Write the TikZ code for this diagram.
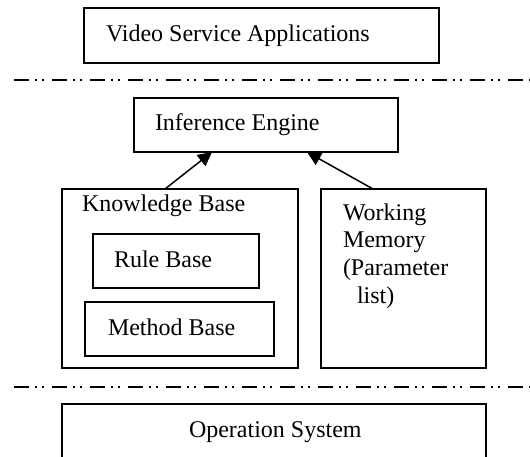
\documentclass[tikz,border=0pt]{standalone}
\usepackage{fontspec}
\setmainfont{Liberation Serif}
\usetikzlibrary{arrows.meta}
\begin{document}
\begin{tikzpicture}[x=0.5pt, y=-0.5pt,
  box/.style={draw, line width=0.75pt, rectangle, inner sep=0pt, outer sep=0pt},
  label/.style={anchor=base west, inner sep=0pt, outer sep=0pt, font=\fontsize{12pt}{14pt}\selectfont},
  layerline/.style={line width=1pt, dash pattern=on 7.5pt off 3pt on 1pt off 2.5pt on 1pt off 4pt},
  feed/.style={line width=0.75pt, -{Triangle[length=7pt,width=7pt]}}]
  \useasboundingbox (0,0) rectangle (530,456);
  \clip (0,0) rectangle (530,456);

  % application layer
  \node[box, minimum width=177.5pt, minimum height=27.5pt] (vsa) at (261.5,35.5) {};
  \node[label] (vsat) at (106,41) {Video Service Applications};

  % separator between layers
  \coordinate (s1a) at (14,80);
  \coordinate (s1b) at (530,80);
  \draw[layerline] (s1a) -- (s1b);

  % expert system core
  \node[box, minimum width=132pt, minimum height=27pt] (ie) at (266,125) {};
  \node[label] (iet) at (155,130) {Inference Engine};

  \node[box, minimum width=118pt, minimum height=89.5pt] (kb) at (180,278.5) {};
  \node[label] (kbt) at (82,211) {Knowledge Base};
  \node[box, minimum width=83pt, minimum height=27pt] (rb) at (176,261) {};
  \node[label] (rbt) at (114,267) {Rule Base};
  \node[box, minimum width=94.5pt, minimum height=27pt] (mb) at (179.5,329) {};
  \node[label] (mbt) at (108,335) {Method Base};

  \node[box, minimum width=82.5pt, minimum height=89.5pt] (wm) at (403.5,278.5) {};
  \node[label] (wm1) at (343,220) {Working};
  \node[label] (wm2) at (343,247.5) {Memory};
  \node[label] (wm3) at (343,275) {(Parameter};
  \node[label] (wm4) at (357,303) {list)};

  \draw[feed] ([xshift=-7.5pt]kb.north) -- ([xshift=-27pt]ie.south);
  \draw[feed] ([xshift=-15.25pt]wm.north) -- ([xshift=20.5pt]ie.south);

  % separator above the operating system
  \coordinate (s2a) at (14,387);
  \coordinate (s2b) at (530,387);
  \draw[layerline] (s2a) -- (s2b);

  % operating system layer
  \node[box, minimum width=212pt, minimum height=33pt] (os) at (274,437) {};
  \node[label] (ost) at (189,437) {Operation System};
\end{tikzpicture}
\end{document}
